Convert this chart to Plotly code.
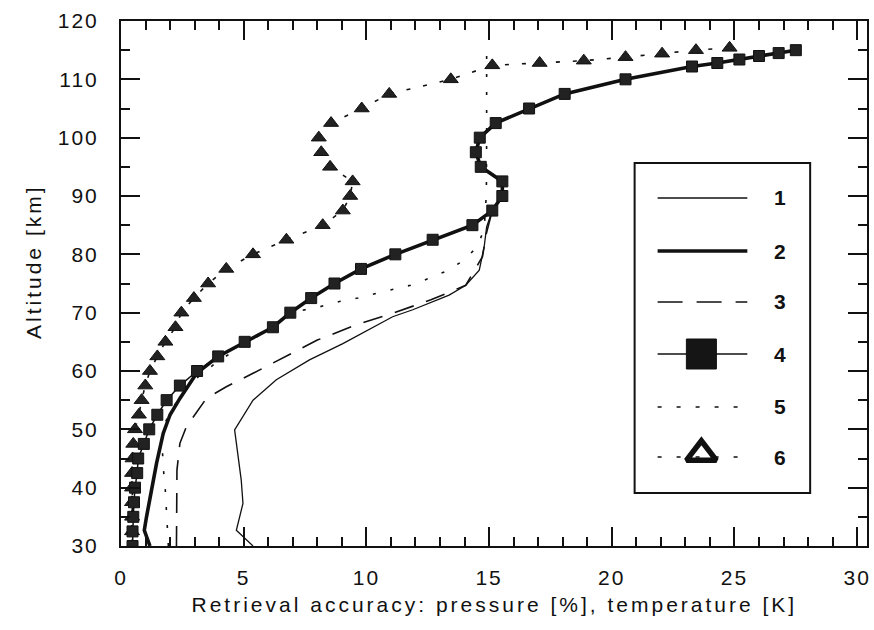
import plotly.graph_objects as go

# ---- altitude grid of the retrieval levels [km] ----
alt_grid = [30, 32.5, 35, 37.5, 40, 42.5, 45, 47.5, 50, 52.5, 55, 57.5, 60,
            62.5, 65, 67.5, 70, 72.5, 75, 77.5, 80, 82.5, 85, 87.5, 90, 92.5,
            95, 97.5, 100, 102.5, 105, 107.5, 110]

# curve 4: squares
c4_top_alt = [112.2, 112.8, 113.4, 114.0, 114.5, 115.0]
c4_x = [0.47, 0.47, 0.50, 0.53, 0.57, 0.66, 0.70, 0.93, 1.15, 1.48, 1.86, 2.40,
        3.10, 3.96, 5.04, 6.19, 6.90, 7.75, 8.70, 9.78, 11.18, 12.70, 14.32,
        15.13, 15.54, 15.54, 14.66, 14.46, 14.62, 15.27, 16.63, 18.08, 20.56]
c4_top_x = [23.27, 24.3, 25.2, 26.0, 26.8, 27.5]

# curve 6: triangles
c6_top_alt = [112.4, 112.8, 113.2, 113.8, 114.4, 115.0, 115.4]
c6_x = [0.45, 0.45, 0.45, 0.45, 0.45, 0.45, 0.47, 0.50, 0.57, 0.73, 0.84, 0.99,
        1.18, 1.48, 1.81, 2.22, 2.46, 2.97, 3.55, 4.29, 5.38, 6.74, 8.22, 9.04,
        9.34, 9.44, 8.52, 8.16, 8.06, 8.56, 9.81, 10.93, 13.44]
c6_top_x = [15.13, 17.06, 18.86, 20.56, 22.05, 23.43, 24.8]

# curve 1: thin solid
c1_alt = [30, 32.7, 37.3, 41.3, 49.9, 55, 58.5, 61.9, 64.7, 69.3, 70.5, 73,
          74.7, 77.3, 81.3, 84.7, 87.5]
c1_x = [5.38, 4.70, 4.97, 4.90, 4.63, 5.38, 6.33, 7.68, 9.04, 11.07, 11.89,
        13.37, 14.05, 14.60, 14.80, 14.90, 15.13]

# curve 2: thick solid
c2_alt = [30, 32.7, 35, 39.6, 44.2, 49.3, 52.5, 55.3, 59.6, 62.5]
c2_x = [1.18, 0.95, 1.04, 1.25, 1.45, 1.72, 2.00, 2.40, 3.08, 3.96]

# curve 3: long dashes
c3_alt = [30, 35, 40, 43, 47.6, 50.5, 55.3, 57.3, 59.6, 62.9, 65.3, 67.9, 69.9,
          72.2, 74.7, 79.6, 83.6, 87.5]
c3_x = [2.26, 2.26, 2.26, 2.28, 2.40, 2.67, 3.48, 4.29, 5.38, 6.87, 8.00, 9.58,
        11.07, 12.63, 14.05, 14.73, 14.89, 15.13]

# curve 5: dots
c5_alt = [30, 35, 40, 43.5, 50, 52, 55, 58.5, 61.5, 64.5, 67.5, 70.2, 71, 71.9,
          72.5, 73.3, 74.0, 74.7, 75.9, 77.2, 78.9, 81.1, 84.2, 90.5, 100, 115]
c5_x = [1.93, 1.88, 1.80, 1.72, 1.65, 1.90, 2.30, 3.00, 3.90, 5.00, 6.20, 7.14,
        8.09, 8.90, 9.65, 10.39, 11.07, 11.80, 12.56, 13.30, 13.94, 14.48,
        14.80, 14.89, 14.90, 14.90]

legend_labels = ["1", "2", "3", "4", "5", "6"]

# full profiles of curves 4 and 6
alt4 = alt_grid + c4_top_alt
x4 = c4_x + c4_top_x
alt6 = alt_grid + c6_top_alt
x6 = c6_x + c6_top_x

# curves 1-3 join curve 4 above the mesopause bump
upper_alt = [a for a in alt4 if a > 87.5]
upper_x = [x for a, x in zip(alt4, x4) if a > 87.5]
lower4_alt = [a for a in alt4 if 62.5 < a <= 87.5]
lower4_x = [x for a, x in zip(alt4, x4) if 62.5 < a <= 87.5]

x1 = c1_x + upper_x
y1 = c1_alt + upper_alt
x2 = c2_x + lower4_x + upper_x
y2 = c2_alt + lower4_alt + upper_alt
x3 = c3_x + upper_x
y3 = c3_alt + upper_alt

INK = "#111111"
FONT = "Liberation Sans"

fig = go.Figure()

fig.add_trace(go.Scatter(x=x1, y=y1, mode="lines",
                         line=dict(color=INK, width=1.3)))
fig.add_trace(go.Scatter(x=x3, y=y3, mode="lines",
                         line=dict(color=INK, width=1.6, dash="20px,13px")))
fig.add_trace(go.Scatter(x=c5_x, y=c5_alt, mode="lines",
                         line=dict(color=INK, width=1.6, dash="3px,15px")))
fig.add_trace(go.Scatter(x=x6, y=alt6, mode="lines+markers",
                         line=dict(color=INK, width=1.6, dash="4px,13px"),
                         marker=dict(symbol="triangle-up", size=13, color="#222222",
                                     line=dict(color=INK, width=1))))
fig.add_trace(go.Scatter(x=x2, y=y2, mode="lines",
                         line=dict(color=INK, width=3.6)))
fig.add_trace(go.Scatter(x=x4, y=alt4, mode="lines+markers",
                         line=dict(color=INK, width=1.5),
                         marker=dict(symbol="square", size=11, color="#222222",
                                     line=dict(color=INK, width=1))))

# ---- legend drawn in its own frame on an overlay axis (0..1 = plot area) ----
lx0, lx1 = 0.7193, 0.8396
lmid = 0.778
ly = [0.6629, 0.5619, 0.4648, 0.3657, 0.2648, 0.1695]
lab_x = 0.884

fig.add_shape(type="rect", xref="paper", yref="paper",
              x0=0.6885, x1=0.9238, y0=0.101, y1=0.7295,
              line=dict(color=INK, width=2), fillcolor="white", layer="below")

legend_styles = [
    dict(line=dict(color=INK, width=1.3)),
    dict(line=dict(color=INK, width=3.6)),
    dict(line=dict(color=INK, width=1.6, dash="25px,14px")),
    dict(line=dict(color=INK, width=1.5)),
    dict(line=dict(color=INK, width=1.6, dash="4px,15px")),
    dict(line=dict(color=INK, width=1.6, dash="4px,15px")),
]
for i, st in enumerate(legend_styles):
    fig.add_trace(go.Scatter(x=[lx0, lx1], y=[ly[i], ly[i]], mode="lines",
                             xaxis="x2", yaxis="y2", **st))
fig.add_trace(go.Scatter(x=[lmid], y=[ly[3]], mode="markers", xaxis="x2", yaxis="y2",
                         marker=dict(symbol="square", size=30, color="#151515",
                                     line=dict(color=INK, width=1))))
fig.add_trace(go.Scatter(x=[lmid], y=[ly[5] + 0.006], mode="markers", xaxis="x2", yaxis="y2",
                         marker=dict(symbol="triangle-up-open", size=26, color=INK,
                                     line=dict(color=INK, width=5.5))))

for i, lab in enumerate(legend_labels):
    fig.add_annotation(x=lab_x, y=ly[i], xref="paper", yref="paper", text=lab,
                       showarrow=False, xanchor="center", yanchor="middle",
                       font=dict(family=FONT, size=21, color=INK, weight="bold"))

# axis titles
fig.add_annotation(x=0.5, y=0, xref="paper", yref="paper", yshift=-58,
                   text="Retrieval accuracy: pressure [%], temperature [K]",
                   showarrow=False, xanchor="center", yanchor="middle",
                   font=dict(family=FONT, size=21, color=INK))
fig.add_annotation(x=0, y=0.5, xref="paper", yref="paper", xshift=-88, yshift=22,
                   text="Altitude [km]", textangle=-90,
                   showarrow=False, xanchor="center", yanchor="middle",
                   font=dict(family=FONT, size=21, color=INK))

axis_common = dict(showline=True, linecolor=INK, linewidth=2, mirror="ticks",
                   ticks="inside", ticklen=19, tickwidth=1.5, tickcolor=INK,
                   showgrid=False, zeroline=False,
                   tickfont=dict(family=FONT, size=21, color=INK))

fig.update_layout(
    width=874, height=630,
    margin=dict(l=121, r=5, t=21, b=84),
    paper_bgcolor="white", plot_bgcolor="white",
    showlegend=False,
    xaxis=dict(range=[0, 30.4], tickvals=[0, 5, 10, 15, 20, 25, 30],
               minor=dict(dtick=1, ticklen=9, ticks="inside", tickcolor=INK, tickwidth=1.5),
               ticklabelstandoff=12, **axis_common),
    yaxis=dict(range=[30, 120], tickvals=[30, 40, 50, 60, 70, 80, 90, 100, 110, 120],
               minor=dict(dtick=5, ticklen=9, ticks="inside", tickcolor=INK, tickwidth=1.5),
               ticklabelstandoff=16, **axis_common),
    xaxis2=dict(overlaying="x", range=[0, 1], visible=False),
    yaxis2=dict(overlaying="y", range=[0, 1], visible=False),
)

# widen the letter spacing of tick labels and axis titles
spacing_js = """
var gd = document.getElementById('{plot_id}');
function spaceText() {
  gd.querySelectorAll('.xtick text, .ytick text').forEach(function (t) {
    t.style.letterSpacing = '2px';
  });
  gd.querySelectorAll('.annotation-text').forEach(function (t) {
    if (t.textContent.length > 2) { t.style.letterSpacing = '3px'; }
  });
}
spaceText();
gd.on('plotly_afterplot', spaceText);
"""

fig.write_html("out.html", post_script=spacing_js)
